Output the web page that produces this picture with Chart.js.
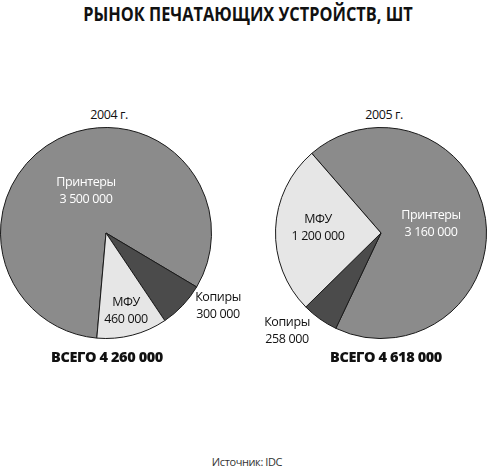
<!DOCTYPE html>
<html>
<head>
<meta charset="utf-8">
<script src="https://cdn.jsdelivr.net/npm/chart.js@4"></script>
<style>
  body { margin: 0; background: #fff; width: 488px; height: 469px; overflow: hidden; position: relative; font-family: "Open Sans", sans-serif; }
  .box { position: absolute; }
  .lbl { position: absolute; transform: translate(-50%, -50%); white-space: nowrap; text-align: center; font-size: 12.5px; line-height: 17px; letter-spacing: -0.4px; color: #111; }
  .white { color: #fff; }
  .title { position: absolute; left: 248px; top: 14px; transform: translate(-50%, -50%) scaleX(0.86); font-weight: 700; font-size: 19px; white-space: nowrap; color: #111; }
  .total { font-weight: 800; font-size: 14.5px; letter-spacing: -0.4px; }
  .src { font-size: 11px; color: #333; }
</style>
</head>
<body>
<div class="title">РЫНОК ПЕЧАТАЮЩИХ УСТРОЙСТВ, ШТ</div>

<div class="box" style="left:0px;top:127px;width:212px;height:212px;"><canvas id="pie2004"></canvas></div>
<div class="box" style="left:275px;top:127px;width:212px;height:212px;"><canvas id="pie2005"></canvas></div>

<div id="labels"></div>

<script>
const categories = ["Принтеры", "Копиры", "МФУ"];
const values2004 = [3500000, 300000, 460000];
const values2005 = [3160000, 258000, 1200000];
const years = ["2004 г.", "2005 г."];
const sliceColors = ["#8b8b8b", "#4b4b4b", "#e6e6e6"];

function fmt(n) {
  return String(n).replace(/\B(?=(\d{3})+(?!\d))/g, " ");
}

function makePie(id, values, rotation) {
  return new Chart(document.getElementById(id), {
    type: "pie",
    data: {
      labels: categories,
      datasets: [{ data: values, backgroundColor: sliceColors, borderColor: "#1a1a1a", borderWidth: 1 }]
    },
    options: {
      responsive: true,
      maintainAspectRatio: false,
      animation: false,
      rotation: rotation,
      layout: { padding: 0 },
      plugins: { legend: { display: false }, tooltip: { enabled: false } }
    }
  });
}

makePie("pie2004", values2004, 185);
makePie("pie2005", values2005, 319);

const sum = a => a.reduce((s, v) => s + v, 0);

// label placement: [x, y, text, extra class]
const labels = [
  [109, 114, years[0], ""],
  [384, 114, years[1], ""],
  [86, 190, `${categories[0]}<br>${fmt(values2004[0])}`, "white"],
  [126, 310, `${categories[2]}<br>${fmt(values2004[2])}`, ""],
  [218, 305, `${categories[1]}<br>${fmt(values2004[1])}`, ""],
  [318, 227, `${categories[2]}<br>${fmt(values2005[2])}`, ""],
  [431, 223, `${categories[0]}<br>${fmt(values2005[0])}`, "white"],
  [287, 330, `${categories[1]}<br>${fmt(values2005[1])}`, ""],
  [107, 356, `ВСЕГО ${fmt(sum(values2004))}`, "total"],
  [386, 356, `ВСЕГО ${fmt(sum(values2005))}`, "total"],
  [247, 461, "Источник: IDC", "src"]
];

document.getElementById("labels").innerHTML = labels.map(([x, y, t, c]) =>
  `<div class="lbl ${c}" style="left:${x}px;top:${y}px;">${t}</div>`
).join("");
</script>
</body>
</html>
